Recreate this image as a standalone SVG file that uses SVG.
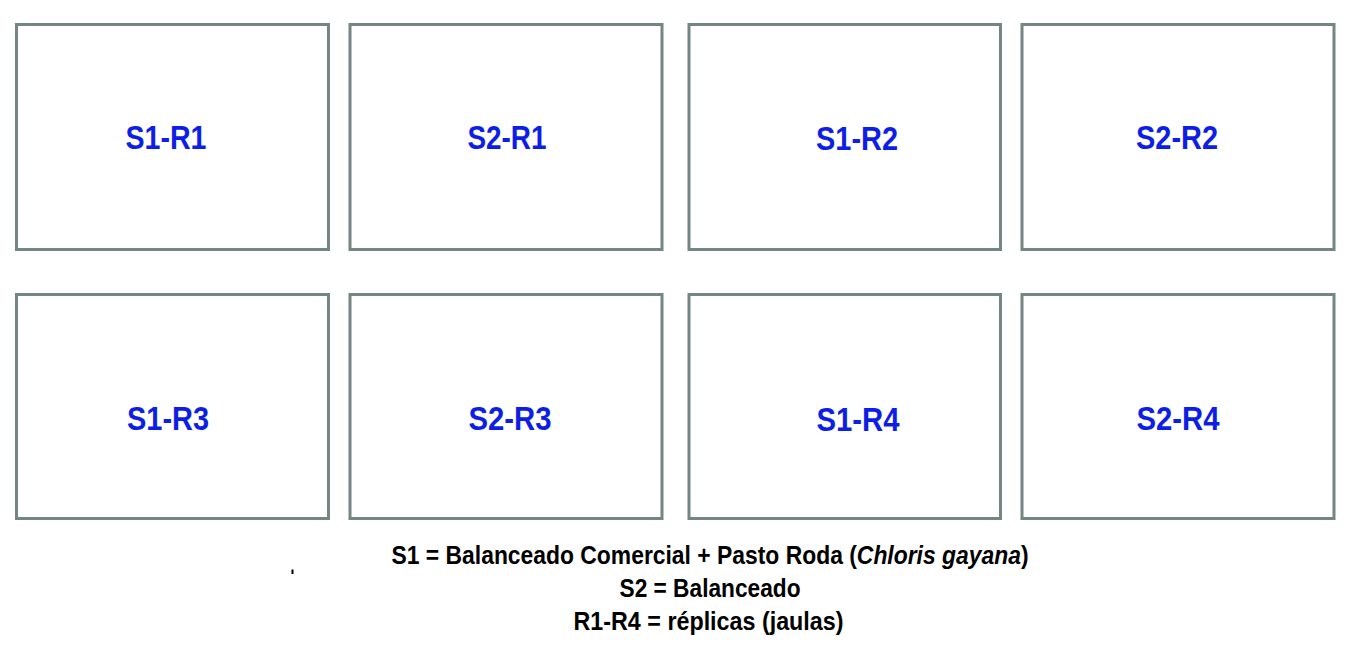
<svg xmlns="http://www.w3.org/2000/svg" width="1355" height="654" viewBox="0 0 1355 654">
<style>
.box{fill:#ffffff;stroke:#748683;stroke-width:3}
.lbl{font-family:"Liberation Sans Narrow","Liberation Sans",Arial,sans-serif;font-weight:bold;font-size:33px;fill:#0d1ee6;text-anchor:middle}
.leg{font-family:"Liberation Sans Narrow","Liberation Sans",Arial,sans-serif;font-weight:bold;font-size:25px;fill:#000000;text-anchor:middle}
</style>
<rect width="1355" height="654" fill="#ffffff"/>
<g id="S1-R1"><rect class="box" x="16.5" y="24.5" width="312" height="225"/><text class="lbl" x="166" y="149" textLength="81" lengthAdjust="spacingAndGlyphs">S1-R1</text></g>
<g id="S2-R1"><rect class="box" x="350" y="24.5" width="312" height="225"/><text class="lbl" x="507" y="149" textLength="79" lengthAdjust="spacingAndGlyphs">S2-R1</text></g>
<g id="S1-R2"><rect class="box" x="689" y="24.5" width="311.5" height="225"/><text class="lbl" x="857" y="150" textLength="82" lengthAdjust="spacingAndGlyphs">S1-R2</text></g>
<g id="S2-R2"><rect class="box" x="1022" y="24.5" width="312" height="225"/><text class="lbl" x="1177" y="149" textLength="82" lengthAdjust="spacingAndGlyphs">S2-R2</text></g>
<g id="S1-R3"><rect class="box" x="16.5" y="294.5" width="312" height="224"/><text class="lbl" x="168" y="430" textLength="82" lengthAdjust="spacingAndGlyphs">S1-R3</text></g>
<g id="S2-R3"><rect class="box" x="350" y="294.5" width="312" height="224"/><text class="lbl" x="510" y="430" textLength="83" lengthAdjust="spacingAndGlyphs">S2-R3</text></g>
<g id="S1-R4"><rect class="box" x="689" y="294.5" width="311.5" height="224"/><text class="lbl" x="858" y="431" textLength="83" lengthAdjust="spacingAndGlyphs">S1-R4</text></g>
<g id="S2-R4"><rect class="box" x="1022" y="294.5" width="312" height="224"/><text class="lbl" x="1178" y="430" textLength="83" lengthAdjust="spacingAndGlyphs">S2-R4</text></g>
<g id="connectors"></g>
<g id="legend">
<text class="leg" x="710" y="564" textLength="637" lengthAdjust="spacingAndGlyphs">S1 = Balanceado Comercial + Pasto Roda (<tspan font-style="italic">Chloris gayana</tspan>)</text>
<text class="leg" x="710" y="597" textLength="181" lengthAdjust="spacingAndGlyphs">S2 = Balanceado</text>
<text class="leg" x="708.5" y="630" textLength="270" lengthAdjust="spacingAndGlyphs">R1-R4 = réplicas (jaulas)</text>
</g>
<rect x="291.5" y="569.5" width="2" height="4.5" fill="#000000"/>
</svg>
